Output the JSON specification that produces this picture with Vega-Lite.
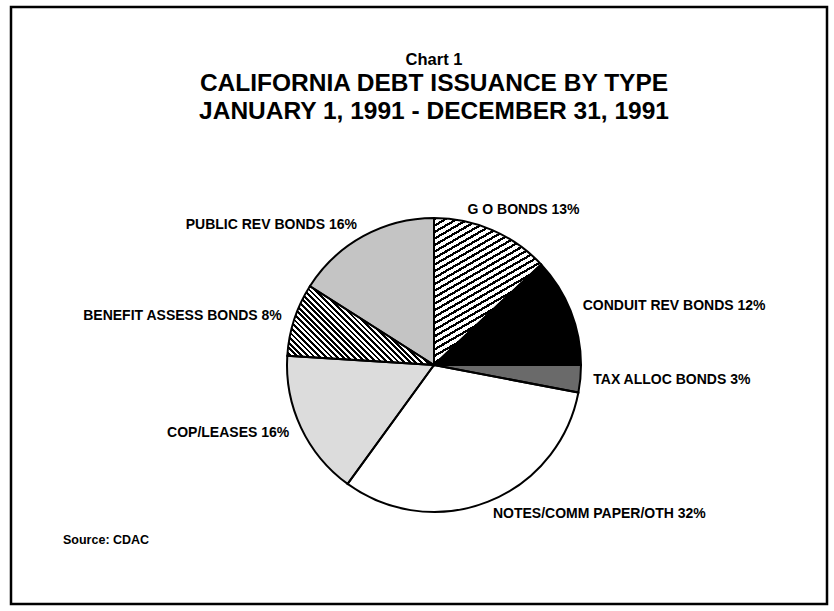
{
  "$schema": "https://vega.github.io/schema/vega-lite/v6.json",
  "width": 834,
  "height": 611,
  "autosize": {"type": "fit", "contains": "padding"},
  "padding": {"left": 9, "top": 5, "right": 5, "bottom": 5},
  "background": "white",
  "config": {"view": {"stroke": null}, "font": "Liberation Sans"},
  "title": {
    "text": "Chart 1",
    "subtitle": ["CALIFORNIA DEBT ISSUANCE BY TYPE", "JANUARY 1, 1991 - DECEMBER 31, 1991"],
    "anchor": "middle",
    "frame": "group",
    "dx": 15,
    "offset": -118,
    "fontSize": 16.5,
    "fontWeight": "bold",
    "font": "Liberation Sans",
    "color": "black",
    "subtitleFontSize": 24.5,
    "subtitleFontWeight": "bold",
    "subtitleFont": "Liberation Sans",
    "subtitleColor": "black",
    "subtitleLineHeight": 28,
    "subtitlePadding": 4
  },
  "data": {
    "values": [
      {"type": "G O BONDS", "pct": 13, "rank": 1, "label": "G O BONDS 13%"},
      {"type": "CONDUIT REV BONDS", "pct": 12, "rank": 2, "label": "CONDUIT REV BONDS 12%"},
      {"type": "TAX ALLOC BONDS", "pct": 3, "rank": 3, "label": "TAX ALLOC BONDS 3%"},
      {"type": "NOTES/COMM PAPER/OTH", "pct": 32, "rank": 4, "label": "NOTES/COMM PAPER/OTH 32%"},
      {"type": "COP/LEASES", "pct": 16, "rank": 5, "label": "COP/LEASES 16%"},
      {"type": "BENEFIT ASSESS BONDS", "pct": 8, "rank": 6, "label": "BENEFIT ASSESS BONDS 8%"},
      {"type": "PUBLIC REV BONDS", "pct": 16, "rank": 7, "label": "PUBLIC REV BONDS 16%"}
    ]
  },
  "layer": [
    {
      "data": {"values": [{"frame": 1}]},
      "mark": {"type": "rect", "filled": false, "stroke": "black", "strokeWidth": 2.5},
      "encoding": {}
    },
    {
      "encoding": {
        "theta": {"field": "pct", "type": "quantitative", "stack": true},
        "order": {"field": "rank", "type": "quantitative"}
      },
      "layer": [
        {
          "mark": {"type": "arc", "radius": 147, "strokeWidth": 0, "xOffset": 15, "yOffset": 59.5},
          "encoding": {
            "color": {
              "field": "type",
              "type": "nominal",
              "scale": {
                "domain": ["G O BONDS", "CONDUIT REV BONDS", "TAX ALLOC BONDS", "NOTES/COMM PAPER/OTH", "COP/LEASES", "BENEFIT ASSESS BONDS", "PUBLIC REV BONDS"],
                "range": ["#9a9a9a", "#000000", "#6a6a6a", "#ffffff", "#dcdcdc", "#5a5a5a", "#c4c4c4"]
              },
              "legend": {
                "orient": "none",
                "legendX": 52,
                "legendY": 527,
                "title": "Source: CDAC",
                "titleFontSize": 12.5,
                "titleFontWeight": "bold",
                "titleColor": "black",
                "titleFont": "Liberation Sans",
                "titlePadding": 0,
                "labelOpacity": 0,
                "labelFontSize": 1,
                "symbolOpacity": 0,
                "symbolSize": 0,
                "symbolStrokeWidth": 0,
                "direction": "horizontal",
                "columns": 7,
                "rowPadding": 0,
                "columnPadding": 0
              }
            }
          }
        },
        {
          "mark": {"type": "arc", "radius": 147, "strokeWidth": 0, "xOffset": 15, "yOffset": 59.5},
          "encoding": {
            "fill": {
              "condition": {
                "test": "datum.rank == 1",
                "value": {
                  "gradient": "linear", "x1": 0, "y1": 0, "x2": 0.507, "y2": 1.206,
                  "stops": [
                    {"offset": 0, "color": "#000"}, {"offset": 0.0125, "color": "#000"}, {"offset": 0.0125, "color": "#fff"}, {"offset": 0.03125, "color": "#fff"},
                    {"offset": 0.03125, "color": "#000"}, {"offset": 0.04375, "color": "#000"}, {"offset": 0.04375, "color": "#fff"}, {"offset": 0.0625, "color": "#fff"},
                    {"offset": 0.0625, "color": "#000"}, {"offset": 0.075, "color": "#000"}, {"offset": 0.075, "color": "#fff"}, {"offset": 0.09375, "color": "#fff"},
                    {"offset": 0.09375, "color": "#000"}, {"offset": 0.10625, "color": "#000"}, {"offset": 0.10625, "color": "#fff"}, {"offset": 0.125, "color": "#fff"},
                    {"offset": 0.125, "color": "#000"}, {"offset": 0.1375, "color": "#000"}, {"offset": 0.1375, "color": "#fff"}, {"offset": 0.15625, "color": "#fff"},
                    {"offset": 0.15625, "color": "#000"}, {"offset": 0.16875, "color": "#000"}, {"offset": 0.16875, "color": "#fff"}, {"offset": 0.1875, "color": "#fff"},
                    {"offset": 0.1875, "color": "#000"}, {"offset": 0.2, "color": "#000"}, {"offset": 0.2, "color": "#fff"}, {"offset": 0.21875, "color": "#fff"},
                    {"offset": 0.21875, "color": "#000"}, {"offset": 0.23125, "color": "#000"}, {"offset": 0.23125, "color": "#fff"}, {"offset": 0.25, "color": "#fff"},
                    {"offset": 0.25, "color": "#000"}, {"offset": 0.2625, "color": "#000"}, {"offset": 0.2625, "color": "#fff"}, {"offset": 0.28125, "color": "#fff"},
                    {"offset": 0.28125, "color": "#000"}, {"offset": 0.29375, "color": "#000"}, {"offset": 0.29375, "color": "#fff"}, {"offset": 0.3125, "color": "#fff"},
                    {"offset": 0.3125, "color": "#000"}, {"offset": 0.325, "color": "#000"}, {"offset": 0.325, "color": "#fff"}, {"offset": 0.34375, "color": "#fff"},
                    {"offset": 0.34375, "color": "#000"}, {"offset": 0.35625, "color": "#000"}, {"offset": 0.35625, "color": "#fff"}, {"offset": 0.375, "color": "#fff"},
                    {"offset": 0.375, "color": "#000"}, {"offset": 0.3875, "color": "#000"}, {"offset": 0.3875, "color": "#fff"}, {"offset": 0.40625, "color": "#fff"},
                    {"offset": 0.40625, "color": "#000"}, {"offset": 0.41875, "color": "#000"}, {"offset": 0.41875, "color": "#fff"}, {"offset": 0.4375, "color": "#fff"},
                    {"offset": 0.4375, "color": "#000"}, {"offset": 0.45, "color": "#000"}, {"offset": 0.45, "color": "#fff"}, {"offset": 0.46875, "color": "#fff"},
                    {"offset": 0.46875, "color": "#000"}, {"offset": 0.48125, "color": "#000"}, {"offset": 0.48125, "color": "#fff"}, {"offset": 0.5, "color": "#fff"},
                    {"offset": 0.5, "color": "#000"}, {"offset": 0.5125, "color": "#000"}, {"offset": 0.5125, "color": "#fff"}, {"offset": 0.53125, "color": "#fff"},
                    {"offset": 0.53125, "color": "#000"}, {"offset": 0.54375, "color": "#000"}, {"offset": 0.54375, "color": "#fff"}, {"offset": 0.5625, "color": "#fff"},
                    {"offset": 0.5625, "color": "#000"}, {"offset": 0.575, "color": "#000"}, {"offset": 0.575, "color": "#fff"}, {"offset": 0.59375, "color": "#fff"},
                    {"offset": 0.59375, "color": "#000"}, {"offset": 0.60625, "color": "#000"}, {"offset": 0.60625, "color": "#fff"}, {"offset": 0.625, "color": "#fff"},
                    {"offset": 0.625, "color": "#000"}, {"offset": 0.6375, "color": "#000"}, {"offset": 0.6375, "color": "#fff"}, {"offset": 0.65625, "color": "#fff"},
                    {"offset": 0.65625, "color": "#000"}, {"offset": 0.66875, "color": "#000"}, {"offset": 0.66875, "color": "#fff"}, {"offset": 0.6875, "color": "#fff"},
                    {"offset": 0.6875, "color": "#000"}, {"offset": 0.7, "color": "#000"}, {"offset": 0.7, "color": "#fff"}, {"offset": 0.71875, "color": "#fff"},
                    {"offset": 0.71875, "color": "#000"}, {"offset": 0.73125, "color": "#000"}, {"offset": 0.73125, "color": "#fff"}, {"offset": 0.75, "color": "#fff"},
                    {"offset": 0.75, "color": "#000"}, {"offset": 0.7625, "color": "#000"}, {"offset": 0.7625, "color": "#fff"}, {"offset": 0.78125, "color": "#fff"},
                    {"offset": 0.78125, "color": "#000"}, {"offset": 0.79375, "color": "#000"}, {"offset": 0.79375, "color": "#fff"}, {"offset": 0.8125, "color": "#fff"},
                    {"offset": 0.8125, "color": "#000"}, {"offset": 0.825, "color": "#000"}, {"offset": 0.825, "color": "#fff"}, {"offset": 0.84375, "color": "#fff"},
                    {"offset": 0.84375, "color": "#000"}, {"offset": 0.85625, "color": "#000"}, {"offset": 0.85625, "color": "#fff"}, {"offset": 0.875, "color": "#fff"},
                    {"offset": 0.875, "color": "#000"}, {"offset": 0.8875, "color": "#000"}, {"offset": 0.8875, "color": "#fff"}, {"offset": 0.90625, "color": "#fff"},
                    {"offset": 0.90625, "color": "#000"}, {"offset": 0.91875, "color": "#000"}, {"offset": 0.91875, "color": "#fff"}, {"offset": 0.9375, "color": "#fff"},
                    {"offset": 0.9375, "color": "#000"}, {"offset": 0.95, "color": "#000"}, {"offset": 0.95, "color": "#fff"}, {"offset": 0.96875, "color": "#fff"},
                    {"offset": 0.96875, "color": "#000"}, {"offset": 0.98125, "color": "#000"}, {"offset": 0.98125, "color": "#fff"}, {"offset": 1, "color": "#fff"}
                  ]
                }
              },
              "value": "transparent"
            }
          }
        },
        {
          "mark": {"type": "arc", "radius": 147, "strokeWidth": 0, "xOffset": 15, "yOffset": 59.5},
          "encoding": {
            "fill": {
              "condition": {
                "test": "datum.rank == 6",
                "value": {
                  "gradient": "linear", "x1": 0, "y1": 1, "x2": 1.193, "y2": 0.359,
                  "stops": [
                    {"offset": 0, "color": "#000"}, {"offset": 0.0125, "color": "#000"}, {"offset": 0.0125, "color": "#fff"}, {"offset": 0.025, "color": "#fff"},
                    {"offset": 0.025, "color": "#000"}, {"offset": 0.0375, "color": "#000"}, {"offset": 0.0375, "color": "#fff"}, {"offset": 0.05, "color": "#fff"},
                    {"offset": 0.05, "color": "#000"}, {"offset": 0.0625, "color": "#000"}, {"offset": 0.0625, "color": "#fff"}, {"offset": 0.075, "color": "#fff"},
                    {"offset": 0.075, "color": "#000"}, {"offset": 0.0875, "color": "#000"}, {"offset": 0.0875, "color": "#fff"}, {"offset": 0.1, "color": "#fff"},
                    {"offset": 0.1, "color": "#000"}, {"offset": 0.1125, "color": "#000"}, {"offset": 0.1125, "color": "#fff"}, {"offset": 0.125, "color": "#fff"},
                    {"offset": 0.125, "color": "#000"}, {"offset": 0.1375, "color": "#000"}, {"offset": 0.1375, "color": "#fff"}, {"offset": 0.15, "color": "#fff"},
                    {"offset": 0.15, "color": "#000"}, {"offset": 0.1625, "color": "#000"}, {"offset": 0.1625, "color": "#fff"}, {"offset": 0.175, "color": "#fff"},
                    {"offset": 0.175, "color": "#000"}, {"offset": 0.1875, "color": "#000"}, {"offset": 0.1875, "color": "#fff"}, {"offset": 0.2, "color": "#fff"},
                    {"offset": 0.2, "color": "#000"}, {"offset": 0.2125, "color": "#000"}, {"offset": 0.2125, "color": "#fff"}, {"offset": 0.225, "color": "#fff"},
                    {"offset": 0.225, "color": "#000"}, {"offset": 0.2375, "color": "#000"}, {"offset": 0.2375, "color": "#fff"}, {"offset": 0.25, "color": "#fff"},
                    {"offset": 0.25, "color": "#000"}, {"offset": 0.2625, "color": "#000"}, {"offset": 0.2625, "color": "#fff"}, {"offset": 0.275, "color": "#fff"},
                    {"offset": 0.275, "color": "#000"}, {"offset": 0.2875, "color": "#000"}, {"offset": 0.2875, "color": "#fff"}, {"offset": 0.3, "color": "#fff"},
                    {"offset": 0.3, "color": "#000"}, {"offset": 0.3125, "color": "#000"}, {"offset": 0.3125, "color": "#fff"}, {"offset": 0.325, "color": "#fff"},
                    {"offset": 0.325, "color": "#000"}, {"offset": 0.3375, "color": "#000"}, {"offset": 0.3375, "color": "#fff"}, {"offset": 0.35, "color": "#fff"},
                    {"offset": 0.35, "color": "#000"}, {"offset": 0.3625, "color": "#000"}, {"offset": 0.3625, "color": "#fff"}, {"offset": 0.375, "color": "#fff"},
                    {"offset": 0.375, "color": "#000"}, {"offset": 0.3875, "color": "#000"}, {"offset": 0.3875, "color": "#fff"}, {"offset": 0.4, "color": "#fff"},
                    {"offset": 0.4, "color": "#000"}, {"offset": 0.4125, "color": "#000"}, {"offset": 0.4125, "color": "#fff"}, {"offset": 0.425, "color": "#fff"},
                    {"offset": 0.425, "color": "#000"}, {"offset": 0.4375, "color": "#000"}, {"offset": 0.4375, "color": "#fff"}, {"offset": 0.45, "color": "#fff"},
                    {"offset": 0.45, "color": "#000"}, {"offset": 0.4625, "color": "#000"}, {"offset": 0.4625, "color": "#fff"}, {"offset": 0.475, "color": "#fff"},
                    {"offset": 0.475, "color": "#000"}, {"offset": 0.4875, "color": "#000"}, {"offset": 0.4875, "color": "#fff"}, {"offset": 0.5, "color": "#fff"},
                    {"offset": 0.5, "color": "#000"}, {"offset": 0.5125, "color": "#000"}, {"offset": 0.5125, "color": "#fff"}, {"offset": 0.525, "color": "#fff"},
                    {"offset": 0.525, "color": "#000"}, {"offset": 0.5375, "color": "#000"}, {"offset": 0.5375, "color": "#fff"}, {"offset": 0.55, "color": "#fff"},
                    {"offset": 0.55, "color": "#000"}, {"offset": 0.5625, "color": "#000"}, {"offset": 0.5625, "color": "#fff"}, {"offset": 0.575, "color": "#fff"},
                    {"offset": 0.575, "color": "#000"}, {"offset": 0.5875, "color": "#000"}, {"offset": 0.5875, "color": "#fff"}, {"offset": 0.6, "color": "#fff"},
                    {"offset": 0.6, "color": "#000"}, {"offset": 0.6125, "color": "#000"}, {"offset": 0.6125, "color": "#fff"}, {"offset": 0.625, "color": "#fff"},
                    {"offset": 0.625, "color": "#000"}, {"offset": 0.6375, "color": "#000"}, {"offset": 0.6375, "color": "#fff"}, {"offset": 0.65, "color": "#fff"},
                    {"offset": 0.65, "color": "#000"}, {"offset": 0.6625, "color": "#000"}, {"offset": 0.6625, "color": "#fff"}, {"offset": 0.675, "color": "#fff"},
                    {"offset": 0.675, "color": "#000"}, {"offset": 0.6875, "color": "#000"}, {"offset": 0.6875, "color": "#fff"}, {"offset": 0.7, "color": "#fff"},
                    {"offset": 0.7, "color": "#000"}, {"offset": 0.7125, "color": "#000"}, {"offset": 0.7125, "color": "#fff"}, {"offset": 0.725, "color": "#fff"},
                    {"offset": 0.725, "color": "#000"}, {"offset": 0.7375, "color": "#000"}, {"offset": 0.7375, "color": "#fff"}, {"offset": 0.75, "color": "#fff"},
                    {"offset": 0.75, "color": "#000"}, {"offset": 0.7625, "color": "#000"}, {"offset": 0.7625, "color": "#fff"}, {"offset": 0.775, "color": "#fff"},
                    {"offset": 0.775, "color": "#000"}, {"offset": 0.7875, "color": "#000"}, {"offset": 0.7875, "color": "#fff"}, {"offset": 0.8, "color": "#fff"},
                    {"offset": 0.8, "color": "#000"}, {"offset": 0.8125, "color": "#000"}, {"offset": 0.8125, "color": "#fff"}, {"offset": 0.825, "color": "#fff"},
                    {"offset": 0.825, "color": "#000"}, {"offset": 0.8375, "color": "#000"}, {"offset": 0.8375, "color": "#fff"}, {"offset": 0.85, "color": "#fff"},
                    {"offset": 0.85, "color": "#000"}, {"offset": 0.8625, "color": "#000"}, {"offset": 0.8625, "color": "#fff"}, {"offset": 0.875, "color": "#fff"},
                    {"offset": 0.875, "color": "#000"}, {"offset": 0.8875, "color": "#000"}, {"offset": 0.8875, "color": "#fff"}, {"offset": 0.9, "color": "#fff"},
                    {"offset": 0.9, "color": "#000"}, {"offset": 0.9125, "color": "#000"}, {"offset": 0.9125, "color": "#fff"}, {"offset": 0.925, "color": "#fff"},
                    {"offset": 0.925, "color": "#000"}, {"offset": 0.9375, "color": "#000"}, {"offset": 0.9375, "color": "#fff"}, {"offset": 0.95, "color": "#fff"},
                    {"offset": 0.95, "color": "#000"}, {"offset": 0.9625, "color": "#000"}, {"offset": 0.9625, "color": "#fff"}, {"offset": 0.975, "color": "#fff"},
                    {"offset": 0.975, "color": "#000"}, {"offset": 0.9875, "color": "#000"}, {"offset": 0.9875, "color": "#fff"}, {"offset": 1, "color": "#fff"}
                  ]
                }
              },
              "value": "transparent"
            }
          }
        },
        {
          "mark": {"type": "arc", "radius": 147, "fill": "transparent", "stroke": "black", "strokeWidth": 2, "xOffset": 15, "yOffset": 59.5},
          "encoding": {}
        },
        {
          "mark": {"type": "text", "radius": 160, "align": "left", "baseline": "middle", "fontSize": 14, "fontWeight": "bold", "font": "Liberation Sans", "color": "black", "xOffset": 15, "yOffset": 59.5},
          "encoding": {
            "text": {"field": "label", "type": "nominal", "condition": {"test": "datum.rank < 2 || datum.rank > 4", "value": ""}}
          }
        },
        {
          "mark": {"type": "text", "radius": 160, "align": "left", "baseline": "middle", "fontSize": 14, "fontWeight": "bold", "font": "Liberation Sans", "color": "black", "xOffset": 15, "yOffset": 59.5, "dx": -30, "dy": -8},
          "encoding": {
            "text": {"field": "label", "type": "nominal", "condition": {"test": "datum.rank != 1", "value": ""}}
          }
        },
        {
          "mark": {"type": "text", "radius": 160, "align": "right", "baseline": "middle", "fontSize": 14, "fontWeight": "bold", "font": "Liberation Sans", "color": "black", "xOffset": 15, "yOffset": 59.5},
          "encoding": {
            "text": {"field": "label", "type": "nominal", "condition": {"test": "datum.rank <= 4", "value": ""}}
          }
        }
      ]
    }
  ]
}
